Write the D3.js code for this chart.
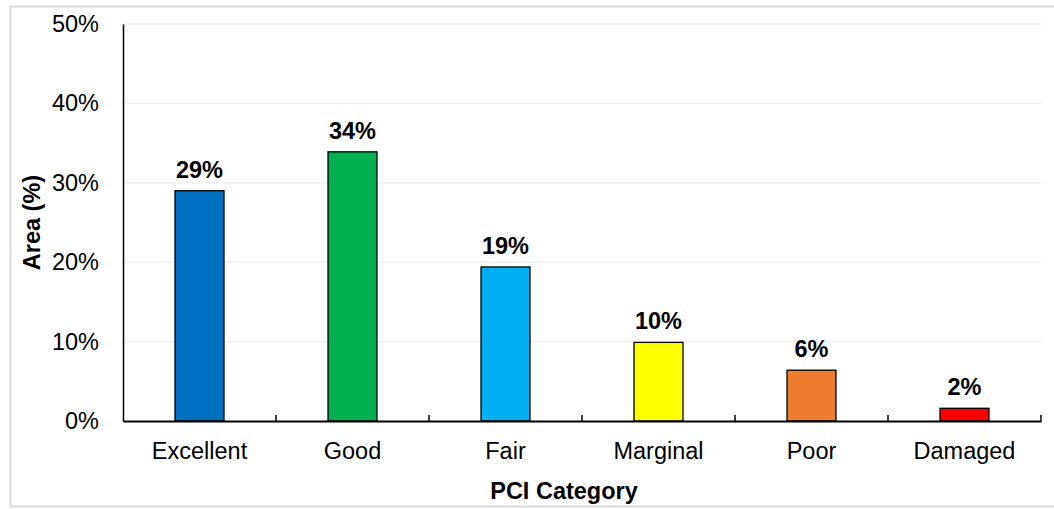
<html>
<head>
<meta charset="utf-8">
<script src="https://cdn.jsdelivr.net/npm/d3@7"></script>
<style>
body { margin: 0; background: #fff; }
text { font-family: "Liberation Sans", Arial, sans-serif; }
</style>
</head>
<body>
<script>

var categories = ["Excellent", "Good", "Fair", "Marginal", "Poor", "Damaged"]
var areaPct = [29.0, 33.9, 19.4, 9.9, 6.4, 1.6]
var barLabels = ["29%", "34%", "19%", "10%", "6%", "2%"]
var barColors = ["#0070C0", "#00B050", "#00B0F0", "#FFFF00", "#ED7D31", "#FF0000"]
var yTicks = [0, 10, 20, 30, 40, 50]

var W = 1054, H = 509
var margin = {top: 24, right: 13, bottom: 88, left: 123}
var fs = "23.5px"

var svg = d3.select("body").append("svg").attr("width", W).attr("height", H)

// outer frame
svg.append("rect")
  .attr("x", 10.5).attr("y", 6.5).attr("width", 1060).attr("height", 500)
  .attr("fill", "none").attr("stroke", "#d9d9d9").attr("stroke-width", 2)

var x = d3.scaleBand().domain(categories).range([margin.left, W - margin.right]).paddingInner(0).paddingOuter(0)
var y = d3.scaleLinear().domain([0, 50]).range([H - margin.bottom, margin.top])

// gridlines
svg.append("g").selectAll("line").data(yTicks.slice(1)).enter().append("line")
  .attr("x1", margin.left).attr("x2", W - margin.right)
  .attr("y1", function(d) {return y(d)}).attr("y2", function(d) {return y(d)})
  .attr("stroke", "#efefef").attr("stroke-width", 1.5)

// bars
var bw = x.bandwidth() * 0.32
svg.append("g").selectAll("rect").data(areaPct).enter().append("rect")
  .attr("x", function(d, i) {return x(categories[i]) + (x.bandwidth() - bw) / 2})
  .attr("y", function(d) {return y(d)})
  .attr("width", bw)
  .attr("height", function(d) {return y(0) - y(d)})
  .attr("fill", function(d, i) {return barColors[i]})
  .attr("stroke", "#000").attr("stroke-width", 1.3)

// value labels
svg.append("g").selectAll("text").data(areaPct).enter().append("text")
  .attr("x", function(d, i) {return x(categories[i]) + x.bandwidth() / 2})
  .attr("y", function(d) {return y(d) - 13})
  .attr("text-anchor", "middle")
  .attr("font-size", fs).attr("font-weight", "bold")
  .text(function(d, i) {return barLabels[i]})

// y axis
var yAxis = svg.append("g")
  .attr("transform", "translate(" + margin.left + ",0)")
  .call(d3.axisLeft(y).tickValues(yTicks).tickSize(0).tickPadding(24).tickFormat(function(d) {return d + "%"}))
yAxis.select(".domain").attr("stroke", "#000").attr("stroke-width", 1.5)
yAxis.selectAll("text").attr("font-size", fs).attr("fill", "#000")
  .style("font-family", "'Liberation Sans', Arial, sans-serif")

// x axis
var xAxis = svg.append("g")
  .attr("transform", "translate(0," + y(0) + ")")
  .call(d3.axisBottom(x).tickSize(0).tickPadding(21))
xAxis.select(".domain").attr("stroke", "#000").attr("stroke-width", 2)
xAxis.selectAll("text").attr("font-size", fs).attr("fill", "#000")
  .style("font-family", "'Liberation Sans', Arial, sans-serif")

// category boundary ticks
var bounds = categories.map(function(c) {return x(c)}).slice(1).concat([W - margin.right])
svg.append("g").selectAll("line").data(bounds).enter().append("line")
  .attr("x1", function(d) {return d}).attr("x2", function(d) {return d})
  .attr("y1", y(0) - 6).attr("y2", y(0))
  .attr("stroke", "#000").attr("stroke-width", 1.5)

// axis titles
svg.append("text")
  .attr("x", 564).attr("y", 499)
  .attr("text-anchor", "middle").attr("font-size", fs).attr("font-weight", "bold")
  .text("PCI Category")

svg.append("text")
  .attr("transform", "translate(40," + ((y(0) + y(50)) / 2) + ") rotate(-90)")
  .attr("text-anchor", "middle").attr("font-size", fs).attr("font-weight", "bold")
  .text("Area (%)")

</script>
</body>
</html>
